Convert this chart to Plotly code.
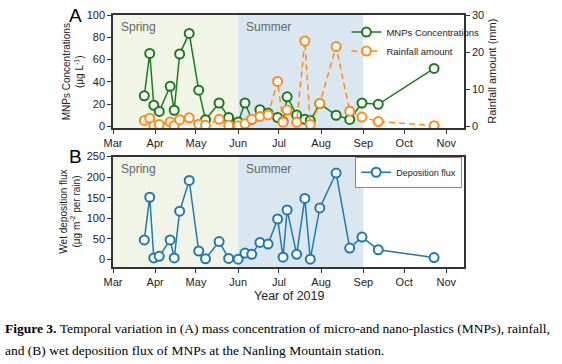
import plotly.graph_objects as go

dates = ['2019-03-24','2019-03-28','2019-03-31','2019-04-04','2019-04-12','2019-04-15',
         '2019-04-19','2019-04-26','2019-05-03','2019-05-08','2019-05-18','2019-05-25',
         '2019-06-01','2019-06-06','2019-06-11','2019-06-17','2019-06-23','2019-06-30',
         '2019-07-04','2019-07-07','2019-07-14','2019-07-20','2019-07-24','2019-07-31',
         '2019-08-12','2019-08-22','2019-08-31','2019-09-12','2019-10-23']
conc = [27.5, 65.5, 19, 13.4, 36, 14.5, 65, 83.5, 32.5, 6, 21, 8,
        4, 21, 6.3, 15, 12, 8, 4.5, 26.6, 10.3, 6.4, 5.3, 20.5,
        10, 6.3, 21, 19.8, 52]
rain = [1.6, 2.2, 0.2, 0.5, 1.2, 0.2, 1.8, 2.3, 0.6, 0.3, 1.9, 0.3,
        0.2, 0.7, 1.9, 2.7, 3.1, 12.1, 1.1, 4.4, 1.1, 23, 0.5, 6.2,
        21.5, 4.1, 2.5, 1.3, 0.2]
flux = [47, 151, 3, 7, 47, 3, 117, 192, 20, 1, 43, 2,
        0, 15, 12, 41, 37, 98, 5, 120, 12, 148, 0, 125,
        210, 27, 54, 23, 4]

month_ticks = ['2019-03-01','2019-04-01','2019-05-01','2019-06-01','2019-07-01',
               '2019-08-01','2019-09-01','2019-10-01','2019-11-01']
month_labels = ['Mar','Apr','May','Jun','Jul','Aug','Sep','Oct','Nov']
seasons = [('Spring', '2019-03-01', '2019-06-01', '#f1f5e7'),
           ('Summer', '2019-06-01', '2019-09-01', '#dbe7f0')]

GREEN = '#1b7a1b'
ORANGE = '#ff8c1a'
BLUE = '#1f78b0'
FONT = 'Liberation Sans, Arial, sans-serif'
SERIF = 'Liberation Serif, Times New Roman, serif'

fig = go.Figure()
fig.add_trace(go.Scatter(x=dates, y=rain, name='Rainfall amount', mode='lines+markers',
                         line=dict(color=ORANGE, width=1.5, dash='6px,4px'),
                         marker=dict(symbol='circle', size=9, color='white',
                                     line=dict(color=ORANGE, width=2)),
                         xaxis='x', yaxis='y2', legend='legend'))
fig.add_trace(go.Scatter(x=dates, y=conc, name='MNPs Concentrations', mode='lines+markers',
                         line=dict(color=GREEN, width=1.5),
                         marker=dict(symbol='circle', size=9, color='white',
                                     line=dict(color=GREEN, width=2)),
                         xaxis='x', yaxis='y', legend='legend'))
fig.add_trace(go.Scatter(x=dates, y=flux, name='Deposition flux', mode='lines+markers',
                         line=dict(color=BLUE, width=1.5),
                         marker=dict(symbol='circle', size=9, color='white',
                                     line=dict(color=BLUE, width=2)),
                         xaxis='x2', yaxis='y3', legend='legend2'))

shapes = []
annotations = []
for xr, yr in (('x', 'y'), ('x2', 'y3')):
    for name, s, e, col in seasons:
        shapes.append(dict(type='rect', xref=xr, yref=yr + ' domain', x0=s, x1=e, y0=0, y1=1,
                           fillcolor=col, line=dict(width=0), layer='below'))
        annotations.append(dict(text=name, xref=xr, yref=yr + ' domain', x=s, y=0.97,
                                xanchor='left', yanchor='top', xshift=6, showarrow=False,
                                font=dict(family=FONT, size=12, color='#666666')))

xcommon = dict(type='date', range=['2019-03-01', '2019-11-14'], tickvals=month_ticks,
               ticktext=month_labels, ticks='outside', ticklen=4, tickwidth=1.3,
               tickcolor='#333333', showline=True, linecolor='#333333', linewidth=1.5,
               mirror=True, showgrid=False, zeroline=False,
               tickfont=dict(family=FONT, size=11, color='#222222'))
ycommon = dict(ticks='outside', ticklen=4, tickwidth=1.3, tickcolor='#333333',
               showline=True, linecolor='#333333', linewidth=1.5, showgrid=False,
               zeroline=False, tickfont=dict(family=FONT, size=11, color='#222222'))

annotations += [
    dict(text='A', x=-0.107, y=1.0, xref='paper', yref='paper', showarrow=False,
         xanchor='center', yanchor='middle', font=dict(family=FONT, size=19, color='black')),
    dict(text='B', x=-0.107, y=0.44, xref='paper', yref='paper', showarrow=False,
         xanchor='center', yanchor='middle', font=dict(family=FONT, size=19, color='black')),
    dict(text='MNPs Concentrations<br>(μg L<sup>-1</sup>)', x=-0.115, y=0.775, xref='paper',
         yref='paper', textangle=-90, showarrow=False, xanchor='center', yanchor='middle',
         font=dict(family=FONT, size=10, color='#222222')),
    dict(text='Rainfall amount (mm)', x=1.08, y=0.775, xref='paper', yref='paper',
         textangle=-90, showarrow=False, xanchor='center', yanchor='middle',
         font=dict(family=FONT, size=11, color='#222222')),
    dict(text='Wet deposition flux<br>(μg m<sup>-2</sup> per rain)', x=-0.125, y=0.22,
         xref='paper', yref='paper', textangle=-90, showarrow=False, xanchor='center',
         yanchor='middle', font=dict(family=FONT, size=10, color='#222222')),
    dict(text='Year of 2019', x=0.5, y=-0.116, xref='paper', yref='paper', showarrow=False,
         xanchor='center', yanchor='middle', font=dict(family=FONT, size=12.5, color='#222222')),
    dict(text='<b>Figure 3.</b> Temporal variation in (A) mass concentration of micro-and nano-plastics (MNPs), rainfall,',
         x=-0.313, y=-0.245, xref='paper', yref='paper', showarrow=False, xanchor='left',
         yanchor='middle', font=dict(family=SERIF, size=13.5, color='black')),
    dict(text='and (B) wet deposition flux of MNPs at the Nanling Mountain station.',
         x=-0.313, y=-0.33, xref='paper', yref='paper', showarrow=False, xanchor='left',
         yanchor='middle', font=dict(family=SERIF, size=13.5, color='black')),
]

fig.update_layout(
    width=562, height=364,
    margin=dict(l=113, r=98, t=9, b=97),
    paper_bgcolor='white', plot_bgcolor='white',
    showlegend=True,
    xaxis=dict(domain=[0, 1], anchor='y', **xcommon),
    yaxis=dict(domain=[0.5504, 1], range=[-1.7, 100], tickvals=[0, 20, 40, 60, 80, 100],
               mirror=False, **ycommon),
    yaxis2=dict(overlaying='y', side='right', anchor='x', range=[-0.51, 30],
                tickvals=[0, 10, 20, 30], **ycommon),
    xaxis2=dict(domain=[0, 1], anchor='y3', **xcommon),
    yaxis3=dict(domain=[0, 0.438], range=[-19, 250], tickvals=[0, 50, 100, 150, 200, 250],
                mirror=True, **ycommon),
    legend=dict(x=0.665, y=0.99, xanchor='left', yanchor='top', bgcolor='rgba(0,0,0,0)',
                borderwidth=0, font=dict(family=FONT, size=9.5, color='#222222'),
                tracegroupgap=0, itemwidth=30, traceorder='reversed'),
    legend2=dict(x=0.69, y=0.376, xanchor='left', yanchor='middle', bgcolor='white',
                 bordercolor='#888888', borderwidth=1,
                 font=dict(family=FONT, size=9, color='#222222'), itemwidth=30),
    shapes=shapes, annotations=annotations,
)

fig.write_html('out.html', config={'displayModeBar': False},
               post_script="document.body.style.margin='0px';document.body.style.padding='0px';")
